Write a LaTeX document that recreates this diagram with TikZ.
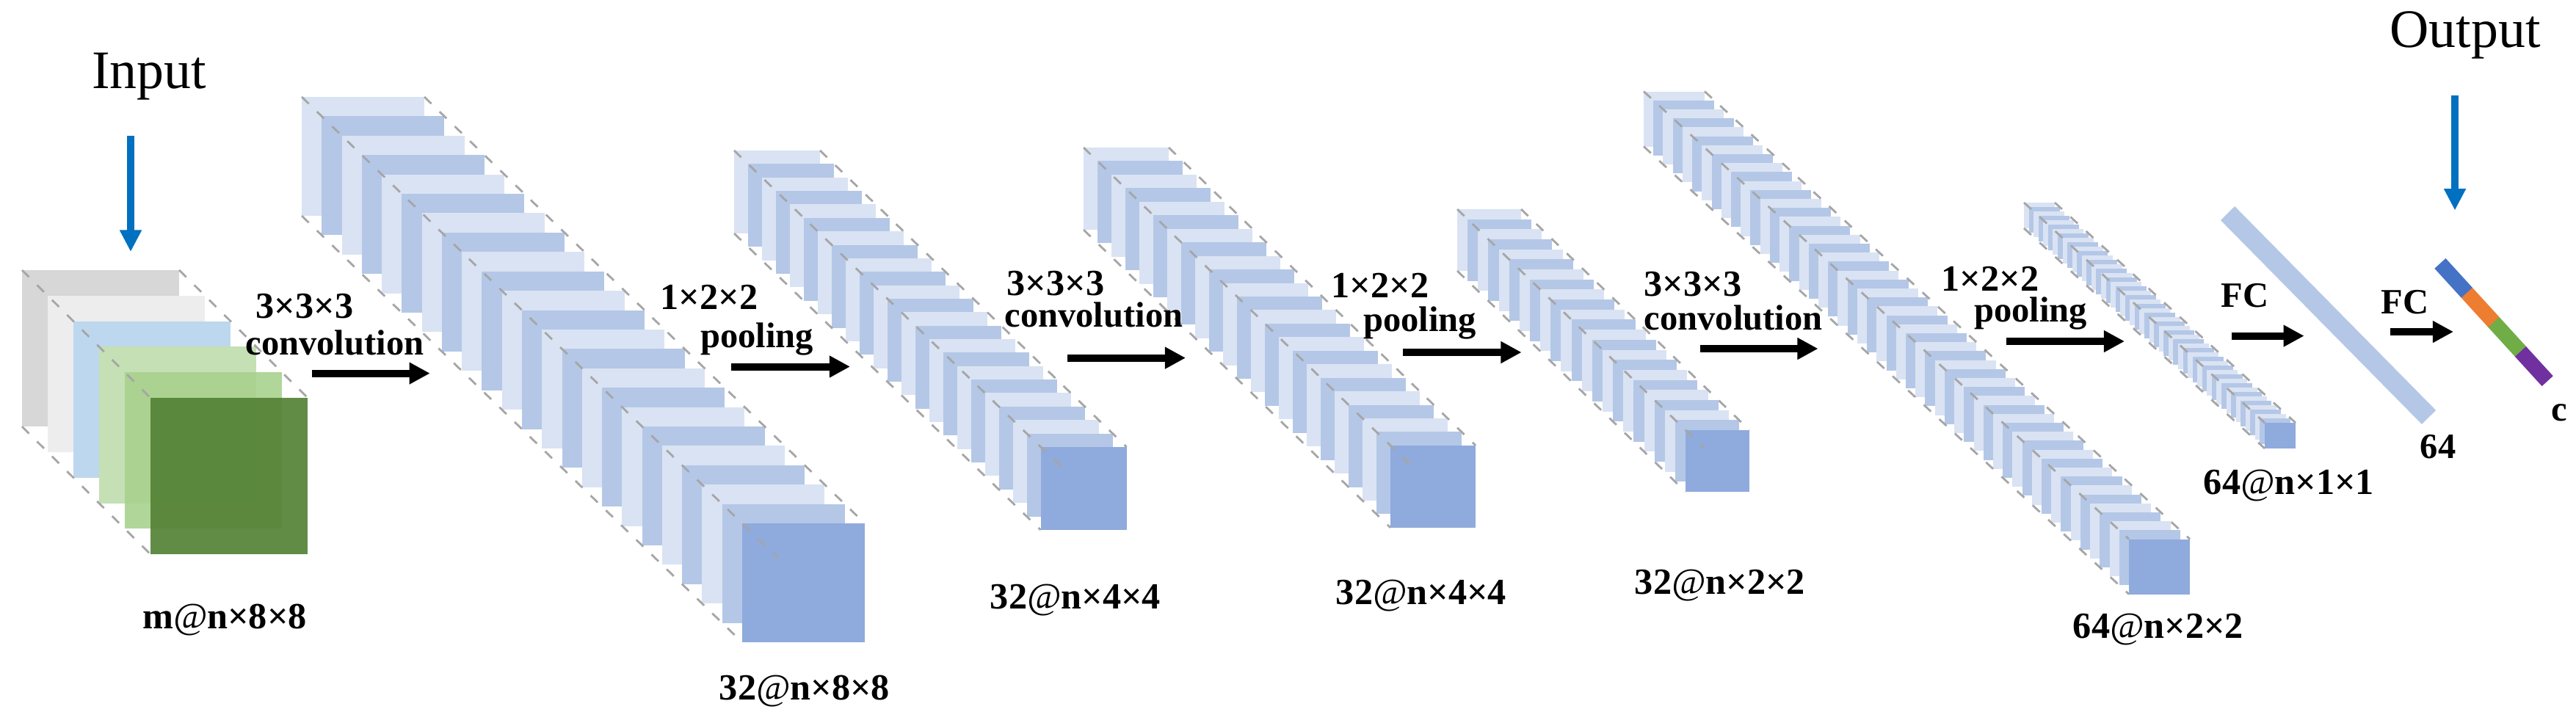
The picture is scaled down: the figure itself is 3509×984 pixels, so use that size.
\documentclass[tikz,border=0pt]{standalone}
\usepackage{fontspec}
\setmainfont{Liberation Serif}
\usetikzlibrary{calc,arrows.meta}
\definecolor{planea}{HTML}{DAE3F3}
\definecolor{planeb}{HTML}{B4C7E7}
\definecolor{planec}{HTML}{8FAADC}
\newcommand{\atsign}{{\normalfont\itshape @}}
\begin{document}
\begin{tikzpicture}[x=0.01cm,y=-0.01cm,
	plane/.style = {inner sep=0pt, outer sep=0pt, anchor=north west, draw=none},
	guide/.style = {draw={rgb,255:red,166;green,166;blue,166}, line width=0.8pt, dash pattern=on 3.8pt off 4.4pt},
	flow/.style = {line width=2.85pt, -{Triangle[length=8pt,width=8pt]}},
	feed/.style = {line width=2.85pt, color={rgb,255:red,0;green,112;blue,192}, -{Triangle[length=8.4pt,width=8pt]}},
	lab/.style = {inner sep=0pt, anchor=base, font=\fontsize{14.3}{16}\selectfont\bfseries},
	word/.style = {inner sep=0pt, anchor=base, font=\fontsize{13.8}{15}\selectfont\bfseries},
	head/.style = {inner sep=0pt, anchor=base, font=\fontsize{21}{24}\selectfont}]
	\useasboundingbox (0,0) rectangle (3509,984);
	% input planes
	\foreach \c/\o [count=\i from 0] in {D7D7D7/1,EDEDED/1,BDD7EE/1,C5E0B4/1,A9D18E/.9,548235/.92} {
		\definecolor{inc}{HTML}{\c}
		\node[plane, fill=inc, fill opacity=\o, minimum width=2.14cm, minimum height=2.13cm] (in\i) at ({30+35*\i},{368+34.8*\i}) {};
	}
	\draw[guide] (in0.north west) -- (in5.north west);
	\draw[guide] (in0.north east) -- (in5.north east);
	\draw[guide] (in0.south west) -- (in5.south west);
	% feature stacks
	\foreach \s/\x/\y/\w/\h/\n/\dx/\dy/\e in {
		a/411/132/167/162/22/27.27/26.41/1.08,
		b/1000/205/117/113/22/18.98/18.36/1.085,
		c/1476/201/116/112/22/19/18.45/1.08,
		d/1985/285/87/84/22/14.14/13.68/1.08,
		e/2239/124.5/83/75/50/13.22/12.2/1,
		f/2757/276/42/35/50/6.56/6/1} {
		\foreach \i in {0,...,\n} {
			\ifnum\i=\n \def\pc{planec}\else\ifodd\i \def\pc{planeb}\else \def\pc{planea}\fi\fi
			\node[plane, fill=\pc, minimum width=\w*0.01cm, minimum height=\h*0.01cm] (\s\i) at ({\x+\dx*\i},{\y+\dy*\i}) {};
		}
		\coordinate (\s x) at ($(\s0.north west)!\e!(\s\n.north west)$);
		\draw[guide] (\s0.north west) -- (\s x);
		\draw[guide] (\s0.north east) -- (\s\n.north east);
		\draw[guide] (\s0.south west) -- (\s\n.south west);
	}
	% fully connected layers
	\node[inner sep=0pt, outer sep=0pt, rotate=-45.4, fill=planeb, minimum width=3.9cm, minimum height=0.27cm] (fc) at (3171.5,429.5) {};
	\foreach \c [count=\i] in {4472C4,ED7D31,70AD47,7030A0} {
		\definecolor{outc}{HTML}{\c}
		\node[inner sep=0pt, outer sep=0pt, rotate=-47.6, fill=outc, minimum width=0.545cm, minimum height=0.205cm] (out\i) at ({3324+36.5*(\i-.5)},{359+40*(\i-.5)}) {};
	}
	% arrows
	\foreach \k/\xa/\xb/\y in {1/424.5/585.7/508.6, 2/995.8/1158/499.5, 3/1454/1615/487.6, 4/1910.7/2072.6/480,
		5/2316/2476.5/475, 6/2733/2894/465, 7/3039.5/3138.6/457.6, 8/3256/3342/452} {
		\coordinate (f\k s) at (\xa,\y);
		\coordinate (f\k e) at (\xb,\y);
		\draw[flow] (f\k s) -- (f\k e);
	}
	\coordinate (ina) at (178,185);
	\coordinate (inb) at (178,343);
	\coordinate (outa) at (3344,129.5);
	\coordinate (outb) at (3344,286.6);
	\draw[feed] (ina) -- (inb);
	\draw[feed] (outa) -- (outb);
	% labels
	\node[head] (input) at (203,120) {Input};
	\node[head] (output) at (3358,64.7) {Output};
	\node[lab] (k1) at (415,433.6) {3×3×3};
	\node[word] (t1) at (456,483) {convolution};
	\node[lab] (k2) at (966,421) {1×2×2};
	\node[word] (t2) at (1031,473) {pooling};
	\node[lab] (k3) at (1438,402.7) {3×3×3};
	\node[word] (t3) at (1490,445) {convolution};
	\node[lab] (k4) at (1880,405) {1×2×2};
	\node[word] (t4) at (1934,451) {pooling};
	\node[lab] (k5) at (2306,403.6) {3×3×3};
	\node[word] (t5) at (2361,449.5) {convolution};
	\node[lab] (k6) at (2711,396) {1×2×2};
	\node[word] (t6) at (2766,438) {pooling};
	\node[word] (fca) at (3058,418.7) {FC};
	\node[word] (fcb) at (3276,427.7) {FC};
	\node[word] (n64) at (3321,624) {64};
	\node[word] (nc) at (3486,573.6) {c};
	\node[lab] (d0) at (306,856) {m\atsign n×8×8};
	\node[lab] (d1) at (1096,953) {32\atsign n×8×8};
	\node[lab] (d2) at (1465,829.7) {32\atsign n×4×4};
	\node[lab] (d3) at (1936,823) {32\atsign n×4×4};
	\node[lab] (d4) at (2343,809) {32\atsign n×2×2};
	\node[lab] (d5) at (2940,869) {64\atsign n×2×2};
	\node[lab] (d6) at (3118,673) {64\atsign n×1×1};
\end{tikzpicture}
\end{document}
